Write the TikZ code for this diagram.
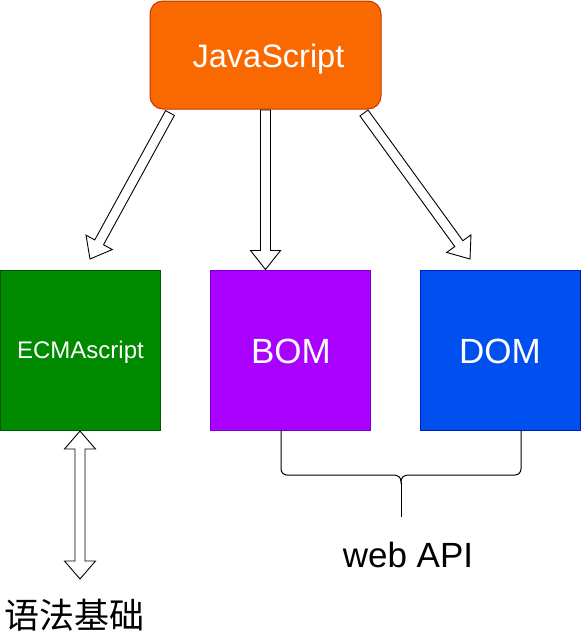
\documentclass[tikz,border=0pt]{standalone}
\usepackage{fontspec}
\setmainfont{Liberation Sans}
\newfontfamily\cjk{Noto Sans CJK SC}
\usetikzlibrary{calc}
\definecolor{jsfill}{HTML}{FA6800}
\definecolor{jsline}{HTML}{C73500}
\definecolor{ecfill}{HTML}{008A00}
\definecolor{ecline}{HTML}{005700}
\definecolor{bofill}{HTML}{AA00FF}
\definecolor{boline}{HTML}{7700CC}
\definecolor{dofill}{HTML}{0050EF}
\definecolor{doline}{HTML}{001DBC}
\tikzset{
  sqbox/.style={draw, line width=1pt, minimum width=160pt, minimum height=160pt, inner sep=0pt, text=white},
  blockarrow/.style={draw=black, fill=white, line width=0.9pt, line join=miter},
  bracepath/.style={draw=black, line width=1pt},
}
\newcommand{\onearrow}[2]{%
  \coordinate (hh) at ($(#2)!19pt!(#1)$);
  \draw[blockarrow] ($(#1)!5pt!90:(#2)$) -- ($(hh)!5pt!90:(#2)$) -- ($(hh)!15pt!90:(#2)$) -- (#2)
    -- ($(hh)!15pt!-90:(#2)$) -- ($(hh)!5pt!-90:(#2)$) -- ($(#1)!5pt!-90:(#2)$) -- cycle;}
\newcommand{\twoarrow}[2]{%
  \coordinate (ha) at ($(#1)!18pt!(#2)$);
  \coordinate (hb) at ($(#2)!18pt!(#1)$);
  \draw[blockarrow] (#1) -- ($(ha)!15.5pt!90:(#2)$) -- ($(ha)!5pt!90:(#2)$) -- ($(hb)!5pt!90:(#2)$)
    -- ($(hb)!15.5pt!90:(#2)$) -- (#2) -- ($(hb)!15.5pt!-90:(#2)$) -- ($(hb)!5pt!-90:(#2)$)
    -- ($(ha)!5pt!-90:(#2)$) -- ($(ha)!15.5pt!-90:(#2)$) -- cycle;}
\begin{document}
\begin{tikzpicture}[x=1pt,y=-1pt]
\useasboundingbox (0,0) rectangle (581,637);
\fill[white] (0,0) rectangle (581,637);
% boxes
\node[draw=jsline, fill=jsfill, line width=1pt, rounded corners=13pt, minimum width=231pt, minimum height=108pt, inner sep=0pt] (js) at (265.5,55) {};
\node[text=white, font=\fontsize{32.5}{36}\selectfont, anchor=base] (jst) at (268.5,67) {JavaScript};
\node[sqbox, draw=ecline, fill=ecfill] (ecma) at (80,350) {};
\node[text=white, font=\fontsize{24}{27}\selectfont, anchor=base] (ecmat) at (80.5,358) {ECMAscript};
\node[sqbox, draw=boline, fill=bofill] (bom) at (290,350) {};
\node[text=white, font=\fontsize{35}{40}\selectfont, anchor=base] (bomt) at (291,363) {BOM};
\node[sqbox, draw=doline, fill=dofill] (dom) at (500,350) {};
\node[text=white, font=\fontsize{35}{40}\selectfont, anchor=base] (domt) at (500,363) {DOM};
% arrows
\coordinate (t1) at (170,113);
\coordinate (e1) at (90,259);
\coordinate (t2) at (265.5,110);
\coordinate (e2) at (265.5,269.5);
\coordinate (t3) at (364,113);
\coordinate (e3) at (470,259);
\onearrow{t1}{e1}
\onearrow{t2}{e2}
\onearrow{t3}{e3}
\coordinate (d1) at (80,431);
\coordinate (d2) at (80,579);
\twoarrow{d1}{d2}
% brace
\coordinate (bl) at (281,430);
\coordinate (br) at (521,430);
\coordinate (bm) at (401,482);
\coordinate (bs) at (401,517);
\draw[bracepath] (bl) -- (281,469) arc[start angle=180, end angle=90, radius=6] -- (393,475)
  .. controls (398,475) and (401,477) .. (bm)
  .. controls (401,477) and (404,475) .. (409,475) -- (515,475)
  arc[start angle=90, end angle=0, radius=6] -- (br);
\draw[bracepath] (bm) -- (bs);
% labels
\node[font=\fontsize{35}{40}\selectfont, anchor=base] (web) at (408,567) {web API};
\node[font=\cjk\fontsize{35}{40}\selectfont, anchor=center] (yufa) at (75,615) {语法基础};
\end{tikzpicture}
\end{document}
